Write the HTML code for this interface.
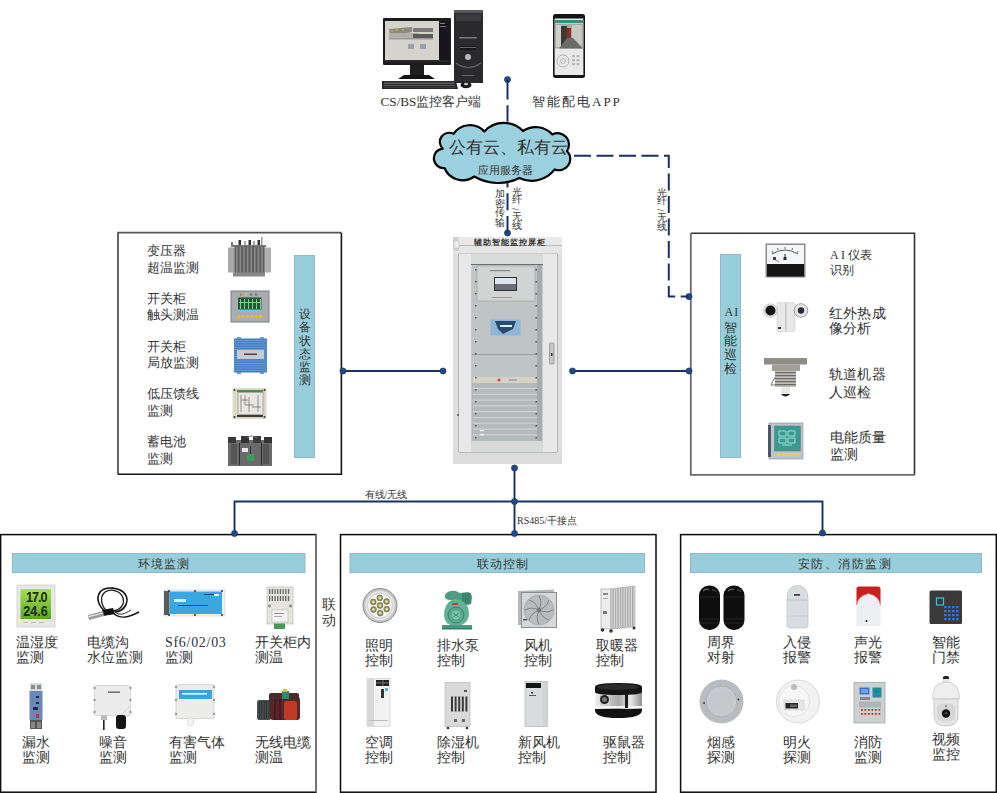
<!DOCTYPE html><html><head><meta charset="utf-8"><style>
html,body{margin:0;padding:0;background:#fff;width:997px;height:793px;overflow:hidden}
body{position:relative;font-family:"Liberation Serif",serif;color:#333}
.t{position:absolute;white-space:nowrap}
.i{position:absolute;overflow:visible}
.sl{display:inline-block;transform:rotate(90deg) translateY(-2px);line-height:6px}
</style></head><body>
<svg class="i" style="left:0;top:0" width="997" height="793"><path d="M118 474.3 V232.7 H341.4" fill="none" stroke="#555" stroke-width="1.8" stroke-linejoin="round"/><path d="M341.4 232.7 V474.3 H118" fill="none" stroke="#151515" stroke-width="1.6"/><rect x="294.5" y="255.5" width="20" height="202" fill="#98cedc" stroke="#8fb9c6" stroke-width="1"/><path d="M690.8 233.3 H914.5 V474.9" fill="none" stroke="#333" stroke-width="1.6"/><path d="M690.8 233.3 V474.9 H914.5" fill="none" stroke="#6a6a6a" stroke-width="1.8"/><rect x="720.5" y="254.5" width="20" height="203" fill="#98cedc" stroke="#8fb9c6" stroke-width="1"/><rect x="0.6" y="534.6" width="315.4" height="257.6" fill="none" stroke="#0a0a0a" stroke-width="1.5"/><path d="M316 534.6 V792.2" stroke="#808080" stroke-width="1.6"/><rect x="12.5" y="553.5" width="292.5" height="19" fill="#98cedc" stroke="#8fb9c6" stroke-width="1"/><rect x="340.5" y="534.6" width="315.5" height="257.6" fill="none" stroke="#0a0a0a" stroke-width="1.5"/><rect x="350" y="553.5" width="294.5" height="19" fill="#98cedc" stroke="#8fb9c6" stroke-width="1"/><rect x="680.6" y="534.6" width="315.69999999999993" height="257.6" fill="none" stroke="#0a0a0a" stroke-width="1.5"/><rect x="690.5" y="553.5" width="291.0" height="19" fill="#98cedc" stroke="#8fb9c6" stroke-width="1"/><path d="M343 371 H443 M572.5 371 H689 M234.5 534 V501.5 H822.5 V533 M514.5 468 V534" fill="none" stroke="#183260" stroke-width="1.9"/><circle cx="343" cy="371" r="3.1" fill="#1f4a86" stroke="#183260" stroke-width="0.6"/><circle cx="443" cy="371" r="3.1" fill="#1f4a86" stroke="#183260" stroke-width="0.6"/><circle cx="572.5" cy="371" r="3.1" fill="#1f4a86" stroke="#183260" stroke-width="0.6"/><circle cx="689" cy="371" r="3.1" fill="#1f4a86" stroke="#183260" stroke-width="0.6"/><circle cx="234.5" cy="533.5" r="3.1" fill="#1f4a86" stroke="#183260" stroke-width="0.6"/><circle cx="822.5" cy="533" r="3.1" fill="#1f4a86" stroke="#183260" stroke-width="0.6"/><circle cx="514.5" cy="501.5" r="3.1" fill="#1f4a86" stroke="#183260" stroke-width="0.6"/><circle cx="514.5" cy="533.5" r="3.1" fill="#1f4a86" stroke="#183260" stroke-width="0.6"/><circle cx="514.5" cy="468" r="3.1" fill="#1f4a86" stroke="#183260" stroke-width="0.6"/><circle cx="507.5" cy="233" r="3.1" fill="#1f4a86" stroke="#183260" stroke-width="0.6"/><circle cx="507.5" cy="79.6" r="3.1" fill="#1f4a86" stroke="#183260" stroke-width="0.6"/><circle cx="689" cy="296.6" r="3.1" fill="#1f4a86" stroke="#183260" stroke-width="0.6"/><path d="M507.5 80 V124" fill="none" stroke="#183260" stroke-width="2" stroke-dasharray="19.5 5.8 16.5 6"/><path d="M507.5 233 V178" fill="none" stroke="#183260" stroke-width="2" stroke-dasharray="17 5.7"/><path d="M574 155.8 H668.8 V296.6 H689" fill="none" stroke="#183260" stroke-width="2" stroke-dasharray="17 5.5"/><path d="M442.7 148.6 A9.20 9.20 0 0 1 453.5 133.9 A19.66 19.66 0 0 1 484.3 131.5 A26.49 26.49 0 0 1 523 131 A22.66 22.66 0 0 1 552.4 134.4 A11.44 11.44 0 0 1 567 151 A11.30 11.30 0 0 1 554.7 169.4 A28.74 28.74 0 0 1 519.3 177.9 A46.58 46.58 0 0 1 474.3 176.5 A19.75 19.75 0 0 1 444.5 168 A9.74 9.74 0 0 1 442.7 148.6 Z" fill="#9bd0de" stroke="#000" stroke-width="2.2" stroke-linejoin="round"/></svg>
<svg class="i" style="left:382px;top:17px" width="70" height="63" viewBox="0 0 70 63"><rect x="1" y="1" width="68" height="47" rx="1" fill="#1c1c1e"/><rect x="3" y="4" width="54" height="39" fill="#d4d4cc"/><rect x="57" y="4" width="10" height="39" fill="#16161c"/><rect x="58" y="6" width="5" height="1" fill="#888"/><rect x="58" y="9" width="6" height="1" fill="#777"/><path d="M7 12 L30 10 L30 15 L8 19 Z" fill="#8a8a84"/><rect x="7" y="16" width="30" height="5" fill="#b0b0a8"/><rect x="9" y="13" width="2" height="2" fill="#c9a030"/><rect x="14" y="12" width="2" height="2" fill="#c9a030"/><rect x="20" y="12" width="2" height="2" fill="#c9a030"/><rect x="31" y="11" width="20" height="4" fill="#7a7a78"/><rect x="31" y="17" width="20" height="4" fill="#5a5a58"/><rect x="7" y="21" width="44" height="1.5" fill="#999"/><rect x="26" y="27" width="6" height="5" fill="#9aa0b0"/><rect x="38" y="27" width="6" height="5" fill="#9aa0b0"/><rect x="3" y="43" width="64" height="2" fill="#2a2a2a"/><rect x="28" y="48" width="14" height="10" fill="#1e1e1e"/><path d="M16 62 L22 58 L47 58 L53 62 Z" fill="#151515"/></svg>
<svg class="i" style="left:382px;top:80px" width="76" height="10" viewBox="0 0 76 10"><path d="M0 1 L74 1 L76 9 L0 9 Z" fill="#262628"/><rect x="2" y="2.5" width="70" height="1.2" fill="#6a6a6a"/><rect x="2" y="4.8" width="71" height="1.2" fill="#5a5a5a"/><rect x="2" y="7" width="72" height="0.8" fill="#444"/></svg>
<svg class="i" style="left:454px;top:10px" width="30" height="74" viewBox="0 0 30 74"><rect x="0" y="0" width="29" height="73" fill="#2a2a2c"/><rect x="0" y="0" width="29" height="3" fill="#5a5a5e"/><rect x="2" y="4" width="25" height="7" fill="#3c3c40"/><rect x="5" y="27" width="18" height="1.5" fill="#777"/><rect x="6" y="36" width="16" height="4" fill="#18181a"/><rect x="6" y="37" width="16" height="1" fill="#666"/><circle cx="14" cy="47" r="3" fill="#b8b8b8"/><path d="M2 53 Q14 62 27 53" stroke="#666" stroke-width="1.2" fill="none"/><rect x="8" y="65" width="12" height="1" fill="#666"/></svg>
<svg class="i" style="left:460px;top:81px" width="13" height="8" viewBox="0 0 13 8"><ellipse cx="6" cy="4" rx="5.5" ry="3.2" fill="#1a1a1a"/><ellipse cx="6" cy="3" rx="2" ry="1.3" fill="#ccc"/></svg>
<svg class="i" style="left:553px;top:14px" width="33" height="64" viewBox="0 0 33 64"><rect x="0" y="0" width="32" height="64" rx="2.5" fill="#151515"/><rect x="1.6" y="4.5" width="28.8" height="56.5" fill="#e9e9e9"/><rect x="1.6" y="6" width="28.8" height="3" fill="#3a9080"/><rect x="1.6" y="9.5" width="28.8" height="25" fill="#a8a8a2"/><rect x="3" y="11" width="5" height="22" fill="#d0d0c8"/><rect x="8" y="12" width="6" height="21" fill="#3a3a36"/><rect x="14" y="14" width="4" height="11" fill="#8a3020"/><rect x="19" y="11" width="10" height="22" fill="#c8c8c2"/><path d="M6 34.5 L14 24 L20 24 L30 34.5 Z" fill="#6a6a66"/><circle cx="10" cy="47" r="6" fill="none" stroke="#9a9a9a" stroke-width="0.7"/><circle cx="10" cy="47" r="2.5" fill="none" stroke="#9a9a9a" stroke-width="0.6"/><g fill="#b8b8b8"><rect x="19.0" y="41" width="3" height="2.2"/><rect x="23.5" y="41" width="3" height="2.2"/><rect x="19.0" y="45" width="3" height="2.2"/><rect x="23.5" y="45" width="3" height="2.2"/><rect x="19.0" y="49" width="3" height="2.2"/><rect x="23.5" y="49" width="3" height="2.2"/></g></svg>
<svg class="i" style="left:453px;top:237px" width="110" height="228" viewBox="0 0 110 228"><rect x="0" y="0" width="109" height="227" fill="#dedede"/><rect x="0" y="0" width="109" height="8" fill="#e9e9e9"/><rect x="0" y="8" width="109" height="1" fill="#b8b8b8"/><rect x="0" y="9" width="109" height="8" fill="#e6e6e6"/><rect x="0" y="0" width="6" height="14" fill="#d0d0d0"/><rect x="1" y="4" width="5" height="7" fill="#eee" stroke="#bbb" stroke-width="0.5"/><rect x="5.5" y="17" width="99" height="199" fill="#e2e2e2" stroke="#b4b4b4" stroke-width="1"/><rect x="6" y="17" width="12" height="198" fill="#e8e8e8"/><rect x="90" y="17" width="14" height="198" fill="#e8e8e8"/><rect x="18" y="17" width="72" height="198" fill="#c8cccc"/><rect x="18" y="17" width="72" height="10" fill="#dadcdc"/><rect x="18" y="27" width="72" height="1" fill="#6a6e6e"/><rect x="19" y="28" width="70" height="176" fill="#bfc5c5"/><rect x="24" y="29" width="58" height="35" fill="#d0d4d2" stroke="#a8acac" stroke-width="0.8"/><rect x="37" y="33" width="20" height="1.2" fill="#888"/><rect x="41" y="40" width="23" height="14" fill="#2a3240"/><rect x="42" y="41" width="21" height="6" fill="#dde6ee"/><rect x="42" y="47" width="21" height="6" fill="#6a7078"/><rect x="39" y="60" width="20" height="1" fill="#999"/><rect x="37.5" y="82.5" width="30" height="16" fill="#8fb6d8"/><path d="M42 84 H63 L60 92 L50 97 L45 92 Z" fill="#2c4a70"/><rect x="47" y="88" width="12" height="2" fill="#cfe"/><rect x="19" y="117" width="70" height="1" fill="#9aa0a0"/><rect x="20" y="140" width="68" height="6" fill="#d6d2c6"/><circle cx="46" cy="143" r="1.6" fill="#e04030"/><rect x="56" y="142" width="8" height="2" fill="#aaa"/><rect x="19" y="146" width="70" height="58" fill="#b2baba"/><g fill="#d6dada"><rect x="20" y="151.0" width="68" height="0.9"/><rect x="20" y="156.8" width="68" height="0.9"/><rect x="20" y="162.6" width="68" height="0.9"/><rect x="20" y="168.4" width="68" height="0.9"/><rect x="20" y="174.2" width="68" height="0.9"/><rect x="20" y="180.0" width="68" height="0.9"/><rect x="20" y="185.8" width="68" height="0.9"/><rect x="20" y="191.6" width="68" height="0.9"/><rect x="20" y="197.4" width="68" height="0.9"/></g><rect x="84" y="28" width="5" height="176" fill="#a4acac"/><g fill="#555"><rect x="22" y="32" width="1.5" height="1.5"/><rect x="82.5" y="32" width="1.5" height="1.5"/><rect x="22" y="44" width="1.5" height="1.5"/><rect x="82.5" y="44" width="1.5" height="1.5"/><rect x="22" y="56" width="1.5" height="1.5"/><rect x="82.5" y="56" width="1.5" height="1.5"/><rect x="22" y="68" width="1.5" height="1.5"/><rect x="82.5" y="68" width="1.5" height="1.5"/><rect x="22" y="80" width="1.5" height="1.5"/><rect x="82.5" y="80" width="1.5" height="1.5"/><rect x="22" y="92" width="1.5" height="1.5"/><rect x="82.5" y="92" width="1.5" height="1.5"/><rect x="22" y="104" width="1.5" height="1.5"/><rect x="82.5" y="104" width="1.5" height="1.5"/><rect x="22" y="116" width="1.5" height="1.5"/><rect x="82.5" y="116" width="1.5" height="1.5"/><rect x="22" y="128" width="1.5" height="1.5"/><rect x="82.5" y="128" width="1.5" height="1.5"/><rect x="22" y="140" width="1.5" height="1.5"/><rect x="82.5" y="140" width="1.5" height="1.5"/><rect x="22" y="152" width="1.5" height="1.5"/><rect x="82.5" y="152" width="1.5" height="1.5"/><rect x="22" y="164" width="1.5" height="1.5"/><rect x="82.5" y="164" width="1.5" height="1.5"/><rect x="22" y="176" width="1.5" height="1.5"/><rect x="82.5" y="176" width="1.5" height="1.5"/><rect x="22" y="188" width="1.5" height="1.5"/><rect x="82.5" y="188" width="1.5" height="1.5"/><rect x="22" y="200" width="1.5" height="1.5"/><rect x="82.5" y="200" width="1.5" height="1.5"/></g><rect x="27" y="193" width="4" height="1.2" fill="#fff"/><rect x="27" y="197" width="4" height="1.2" fill="#fff"/><rect x="18" y="204" width="72" height="11" fill="#d8dada"/><rect x="96.5" y="106" width="4.5" height="21" rx="1" fill="#c8c8c8" stroke="#888" stroke-width="0.7"/><rect x="98" y="116" width="1.5" height="3" fill="#333"/><rect x="0" y="215" width="109" height="12" fill="#dcdcdc"/><rect x="6" y="215" width="98" height="1" fill="#bbb"/><rect x="4.5" y="177" width="1" height="2" fill="#222"/></svg>
<div class="t" style="left:474px;top:238.5px;font-size:7.5px;line-height:8px;font-weight:bold;letter-spacing:1.05px;color:#333">辅助智能监控屏柜</div>
<svg class="i" style="left:228px;top:237px" width="44" height="40" viewBox="0 0 44 40"><rect x="3" y="5" width="2" height="5" fill="#777"/><rect x="10.5" y="3" width="2.5" height="7" fill="#333"/><rect x="16" y="4" width="2" height="6" fill="#aaa"/><rect x="20.5" y="3" width="2.5" height="7" fill="#333"/><rect x="25" y="4" width="2" height="6" fill="#aaa"/><rect x="29.5" y="3" width="2.5" height="7" fill="#333"/><rect x="33" y="0" width="1.5" height="9" fill="#999"/><rect x="5" y="8" width="33" height="2" fill="#777"/><rect x="0" y="10.5" width="7.5" height="25" fill="#a8a8a8"/><rect x="35.5" y="10.5" width="7.5" height="25" fill="#b0b0b0"/><rect x="6.5" y="9.5" width="30" height="27" fill="#5e5e5e"/><rect x="8.0" y="10" width="1.6" height="26" fill="#8a8a8a"/><rect x="11.6" y="10" width="1.6" height="26" fill="#8a8a8a"/><rect x="15.2" y="10" width="1.6" height="26" fill="#8a8a8a"/><rect x="18.8" y="10" width="1.6" height="26" fill="#8a8a8a"/><rect x="22.4" y="10" width="1.6" height="26" fill="#8a8a8a"/><rect x="26.0" y="10" width="1.6" height="26" fill="#8a8a8a"/><rect x="29.6" y="10" width="1.6" height="26" fill="#8a8a8a"/><rect x="33.2" y="10" width="1.6" height="26" fill="#8a8a8a"/><rect x="5" y="35.5" width="32" height="4" fill="#888"/></svg>
<svg class="i" style="left:230px;top:290px" width="40" height="33" viewBox="0 0 40 33"><rect x="1" y="1" width="38" height="31" fill="#a9adb2" stroke="#7a7e82" stroke-width="1"/><circle cx="11" cy="4.5" r="1.2" fill="#e07040"/><circle cx="16" cy="4.5" r="1.2" fill="#c8d040"/><circle cx="21" cy="4.5" r="1.2" fill="#777"/><circle cx="26" cy="4.5" r="1.2" fill="#777"/><rect x="8" y="7.5" width="23.5" height="12.5" fill="#1f5a34"/><rect x="10" y="9" width="1" height="10" fill="#7fd080"/><rect x="14" y="9" width="1" height="10" fill="#7fd080"/><rect x="18" y="9" width="1" height="10" fill="#7fd080"/><rect x="22" y="9" width="1" height="10" fill="#7fd080"/><rect x="26" y="9" width="1" height="10" fill="#7fd080"/><rect x="30" y="9" width="1" height="10" fill="#7fd080"/><rect x="9" y="12" width="22" height="0.8" fill="#9fe09a"/><rect x="8" y="19.5" width="23.5" height="2" fill="#6fc8d8"/><circle cx="9.0" cy="26.5" r="1.7" fill="#e0c020"/><circle cx="13.3" cy="26.5" r="1.7" fill="#e0c020"/><circle cx="17.6" cy="26.5" r="1.7" fill="#e0c020"/><circle cx="21.9" cy="26.5" r="1.7" fill="#e0c020"/><circle cx="26.2" cy="26.5" r="1.7" fill="#e0c020"/><circle cx="30.5" cy="26.5" r="1.7" fill="#e0c020"/></svg>
<svg class="i" style="left:233px;top:337px" width="35" height="37" viewBox="0 0 35 37"><rect x="1" y="1.5" width="33" height="34" fill="#3f7cc0"/><rect x="1" y="3.0" width="33" height="0.8" fill="#7aa8d8"/><rect x="1" y="5.3" width="33" height="0.8" fill="#7aa8d8"/><rect x="1" y="7.6" width="33" height="0.8" fill="#7aa8d8"/><rect x="1" y="9.9" width="33" height="0.8" fill="#7aa8d8"/><rect x="1" y="12.2" width="33" height="0.8" fill="#7aa8d8"/><rect x="1" y="14.5" width="33" height="0.8" fill="#7aa8d8"/><rect x="1" y="16.8" width="33" height="0.8" fill="#7aa8d8"/><rect x="1" y="19.1" width="33" height="0.8" fill="#7aa8d8"/><rect x="1" y="21.4" width="33" height="0.8" fill="#7aa8d8"/><rect x="1" y="23.7" width="33" height="0.8" fill="#7aa8d8"/><rect x="1" y="26.0" width="33" height="0.8" fill="#7aa8d8"/><rect x="1" y="28.3" width="33" height="0.8" fill="#7aa8d8"/><rect x="1" y="30.6" width="33" height="0.8" fill="#7aa8d8"/><rect x="1" y="32.9" width="33" height="0.8" fill="#7aa8d8"/><rect x="4" y="13" width="27" height="9" fill="#c8ccd2"/><rect x="11" y="16.5" width="13" height="1.5" fill="#444"/><rect x="4" y="0" width="4" height="2" fill="#6a9ad0"/><rect x="27" y="0" width="4" height="2" fill="#6a9ad0"/><rect x="4" y="35" width="4" height="2" fill="#6a9ad0"/><rect x="27" y="35" width="4" height="2" fill="#6a9ad0"/></svg>
<svg class="i" style="left:232px;top:387px" width="36" height="33" viewBox="0 0 36 33"><rect x="0.5" y="1" width="34" height="31" fill="#ddd9c8"/><rect x="5" y="3" width="26" height="2" fill="#4a8a4a"/><rect x="5" y="28" width="26" height="2" fill="#3a3a3a"/><rect x="6" y="5.5" width="25" height="22" fill="#e9e7e2" stroke="#888" stroke-width="0.6"/><path d="M9 8 V25 M13 8 V18 H22 M17 10 V25 M26 8 V25 M9 13 H16 M20 20 H29" stroke="#555" stroke-width="0.6" fill="none"/><circle cx="2.5" cy="3" r="1" fill="#333"/><circle cx="32.5" cy="3" r="1" fill="#333"/><circle cx="2.5" cy="30" r="1" fill="#333"/><circle cx="32.5" cy="30" r="1" fill="#333"/></svg>
<svg class="i" style="left:227px;top:434px" width="46" height="33" viewBox="0 0 46 33"><rect x="1" y="6" width="44" height="26" fill="#6a6a6a"/><rect x="1" y="3" width="8" height="6" fill="#3a3a3a"/><rect x="14" y="2" width="8" height="7" fill="#333"/><rect x="26" y="2" width="8" height="7" fill="#3c3c3c"/><rect x="37" y="3" width="8" height="6" fill="#333"/><rect x="12" y="9" width="1" height="22" fill="#2a2a2a"/><rect x="34" y="9" width="1" height="22" fill="#2a2a2a"/><path d="M20 4 Q25 0 30 4" stroke="#777" stroke-width="1" fill="none"/><rect x="15" y="14" width="6" height="4" fill="#e8e8e8"/><rect x="20" y="20" width="7" height="7" fill="#3a9a5a"/><rect x="23" y="12" width="1" height="8" fill="#333"/><rect x="4" y="10" width="6" height="20" fill="#555"/><rect x="36" y="10" width="6" height="20" fill="#555"/></svg>
<svg class="i" style="left:765px;top:243px" width="41" height="36" viewBox="0 0 41 36"><rect x="0.5" y="0.5" width="40" height="34" fill="#8a8a8a"/><rect x="2" y="2" width="37" height="19" fill="#f4f6fa"/><rect x="2" y="21" width="37" height="12.5" fill="#151515"/><path d="M7 11 Q20 3 33 11" stroke="#333" stroke-width="0.8" fill="none"/><path d="M8 10 l-1 -2 M13 7 l-0.5 -2 M20 6 v-2 M27 7 l0.5 -2 M32 10 l1 -2" stroke="#333" stroke-width="0.7"/><path d="M20 16 L20 11" stroke="#222" stroke-width="1"/><rect x="18.5" y="14" width="3" height="3" fill="#333"/><path d="M9 16 L14 19" stroke="#c33" stroke-width="0.8"/><rect x="8" y="14" width="3" height="3" fill="#444"/></svg>
<svg class="i" style="left:763px;top:302px" width="46" height="30" viewBox="0 0 46 30"><rect x="14" y="0.5" width="18" height="29" rx="2" fill="#e8e8e8" stroke="#cfcfcf" stroke-width="0.6"/><rect x="22.5" y="1" width="0.8" height="27" fill="#aaa"/><circle cx="7.5" cy="8.5" r="6.8" fill="#e0e0e0" stroke="#bbb" stroke-width="0.6"/><circle cx="7.5" cy="8.5" r="5" fill="#151515"/><circle cx="38" cy="8.5" r="6.8" fill="#e6e6e6" stroke="#888" stroke-width="0.8"/><circle cx="38" cy="8.5" r="3.2" fill="#2a2a40"/><rect x="15" y="25" width="3" height="2" fill="#333"/></svg>
<svg class="i" style="left:764px;top:357px" width="45" height="42" viewBox="0 0 45 42"><rect x="0" y="1" width="43" height="6.5" fill="#8e8e86"/><rect x="8" y="7.5" width="28" height="6.5" fill="#a0a098"/><rect x="11" y="14" width="21" height="16" fill="#c0c0b8"/><rect x="11" y="15" width="21" height="1.3" fill="#6a6a66"/><rect x="11" y="18" width="21" height="1.3" fill="#6a6a66"/><rect x="11" y="21" width="21" height="1.3" fill="#6a6a66"/><rect x="11" y="24" width="21" height="1.3" fill="#6a6a66"/><rect x="11" y="27" width="21" height="1.3" fill="#6a6a66"/><path d="M11 20 L7 28 L11 28" stroke="#555" stroke-width="0.8" fill="none"/><rect x="17" y="30" width="9" height="7" fill="#e9e9e9"/><path d="M17 37 Q21.5 42 26 37 Z" fill="#222"/></svg>
<svg class="i" style="left:768px;top:422px" width="36" height="38" viewBox="0 0 36 38"><rect x="1" y="1" width="34" height="36" fill="#bcc6cc" stroke="#8e9aa2" stroke-width="0.7"/><rect x="0" y="3" width="3" height="32" fill="#4a5866"/><rect x="6.5" y="4" width="26" height="25" fill="#3a9a92" stroke="#6a7a80" stroke-width="0.6"/><path d="M11 9 h7 v5 h-7 z M20 9 h7 v5 h-7 z M11 16 h7 v5 h-7 z M20 16 h7 v5 h-7 z M14 23 h10" stroke="#a0e0d0" stroke-width="1" fill="none"/><rect x="9.0" y="31" width="3" height="2.2" fill="#e8d060"/><rect x="13.6" y="31" width="3" height="2.2" fill="#e8d060"/><rect x="18.2" y="31" width="3" height="2.2" fill="#e8d060"/><rect x="22.8" y="31" width="3" height="2.2" fill="#e8d060"/><rect x="27.4" y="31" width="3" height="2.2" fill="#e8d060"/></svg>
<svg class="i" style="left:17px;top:585px" width="38" height="42" viewBox="0 0 38 42"><defs><linearGradient id="lcd" x1="0" y1="0" x2="0" y2="1"><stop offset="0" stop-color="#a8e050"/><stop offset="1" stop-color="#5aa828"/></linearGradient></defs><rect x="0" y="0" width="38" height="42" fill="#e6e8e6" stroke="#d0d0d0" stroke-width="0.8"/><rect x="3.5" y="4" width="30.5" height="30" fill="url(#lcd)"/><text x="10" y="17.5" font-family="Liberation Sans" font-size="14" font-weight="bold" fill="#1a2a10" transform="scale(0.9 1)" textLength="24">17.0</text><text x="7" y="31" font-family="Liberation Sans" font-size="14" font-weight="bold" fill="#1a2a10" transform="scale(0.9 1)">24.6</text><rect x="6" y="37" width="5" height="1" fill="#bbb"/><rect x="14" y="37" width="5" height="1" fill="#bbb"/><rect x="22" y="37" width="5" height="1" fill="#bbb"/></svg>
<svg class="i" style="left:87px;top:587px" width="53" height="37" viewBox="0 0 53 37"><path d="M24 27 C13 24 8 12 13 5 C18 -1 33 0 38 7 C43 14 38 24 28 25" stroke="#111" stroke-width="1.6" fill="none"/><path d="M22 26 C14 20 12 10 18 5 C24 1 34 4 36 11 C38 18 33 23 26 24" stroke="#1a1a1a" stroke-width="1.3" fill="none"/><path d="M26 26 C34 33 42 30 52 25" stroke="#151515" stroke-width="1.4" fill="none"/><path d="M28 25 C32 29 38 27 44 23" stroke="#222" stroke-width="1" fill="none"/><path d="M15 23 L26 21 L28 27 L16 29 Z" fill="#111"/><path d="M1 28 L16 24 L17 29 L2 33 Z" fill="#9a9a9a"/><path d="M1.5 29 L16 25.5 L16.3 26.6 L2 30.2 Z" fill="#e8e8e8"/></svg>
<svg class="i" style="left:164px;top:589px" width="61" height="28" viewBox="0 0 61 28"><rect x="0" y="1" width="61" height="26" fill="#f2f2f2" stroke="#ccc" stroke-width="0.6"/><rect x="0" y="2" width="5.5" height="24" fill="#5a5a5a"/><rect x="5.5" y="2.5" width="52.5" height="22.5" fill="#3ba7e0"/><rect x="10" y="10" width="12" height="3" fill="#dfe8c8"/><rect x="14" y="16" width="30" height="1" fill="#1a4a70"/><rect x="40" y="5" width="10" height="1" fill="#1a4a70"/><rect x="50" y="5" width="5" height="2" fill="#dff"/><circle cx="5" cy="2" r="1" fill="#333"/><circle cx="31" cy="2" r="1" fill="#333"/><circle cx="58" cy="2" r="1" fill="#333"/><circle cx="5" cy="26" r="1" fill="#333"/><circle cx="31" cy="26" r="1" fill="#333"/><circle cx="58" cy="26" r="1" fill="#333"/></svg>
<svg class="i" style="left:266px;top:586px" width="28" height="44" viewBox="0 0 28 44"><rect x="1" y="1" width="26" height="37" fill="#e4e4dc" stroke="#bdbdb5" stroke-width="0.7"/><rect x="3.0" y="3" width="1.3" height="5" fill="#666"/><rect x="3.0" y="10" width="1.3" height="5" fill="#666"/><rect x="5.7" y="3" width="1.3" height="5" fill="#666"/><rect x="5.7" y="10" width="1.3" height="5" fill="#666"/><rect x="8.4" y="3" width="1.3" height="5" fill="#666"/><rect x="8.4" y="10" width="1.3" height="5" fill="#666"/><rect x="11.1" y="3" width="1.3" height="5" fill="#666"/><rect x="11.1" y="10" width="1.3" height="5" fill="#666"/><rect x="13.8" y="3" width="1.3" height="5" fill="#666"/><rect x="13.8" y="10" width="1.3" height="5" fill="#666"/><rect x="16.5" y="3" width="1.3" height="5" fill="#666"/><rect x="16.5" y="10" width="1.3" height="5" fill="#666"/><rect x="19.2" y="3" width="1.3" height="5" fill="#666"/><rect x="19.2" y="10" width="1.3" height="5" fill="#666"/><rect x="21.9" y="3" width="1.3" height="5" fill="#666"/><rect x="21.9" y="10" width="1.3" height="5" fill="#666"/><circle cx="3.5" cy="20" r="1.4" fill="#888"/><circle cx="24.5" cy="20" r="1.4" fill="#888"/><rect x="6" y="24" width="16" height="12" fill="#f4f4f4" stroke="#aaa" stroke-width="0.5"/><rect x="8" y="27" width="10" height="0.8" fill="#777"/><rect x="8" y="30" width="8" height="0.8" fill="#999"/><rect x="8" y="37.5" width="11" height="5.5" fill="#4a9a5a"/></svg>
<svg class="i" style="left:29px;top:683px" width="14" height="46" viewBox="0 0 14 46"><rect x="1" y="0" width="12" height="8" fill="#d8dce0"/><rect x="2" y="2" width="4" height="4" fill="#888"/><rect x="8" y="2" width="4" height="4" fill="#888"/><rect x="0.5" y="8" width="13" height="29" fill="#6b89b6"/><rect x="7" y="13" width="3" height="2" fill="#1a2a50"/><rect x="7" y="19" width="3" height="2" fill="#1a2a50"/><rect x="4" y="24" width="5" height="3" fill="#1a2a50"/><rect x="7" y="31" width="3" height="4" fill="#c03040"/><rect x="1" y="37" width="12" height="9" fill="#555"/><rect x="2" y="39" width="4" height="6" fill="#888"/><rect x="8" y="39" width="4" height="6" fill="#888"/></svg>
<svg class="i" style="left:93px;top:685px" width="39" height="45" viewBox="0 0 39 45"><rect x="1.5" y="0.5" width="36" height="30" rx="1" fill="#ececec" stroke="#c8c8c8" stroke-width="0.7"/><circle cx="1.5" cy="3" r="1.2" fill="#999"/><circle cx="37.5" cy="3" r="1.2" fill="#999"/><circle cx="1.5" cy="15" r="1.2" fill="#999"/><circle cx="37.5" cy="15" r="1.2" fill="#999"/><circle cx="1.5" cy="27" r="1.2" fill="#999"/><circle cx="37.5" cy="27" r="1.2" fill="#999"/><rect x="15" y="6.5" width="12" height="1.3" fill="#555"/><path d="M28 30 L37 21" stroke="#ccc" stroke-width="0.8"/><rect x="8" y="30" width="6" height="5" fill="#bbb"/><rect x="10" y="35" width="1.6" height="10" fill="#222"/><rect x="23" y="30" width="10" height="14" rx="3" fill="#151515"/></svg>
<svg class="i" style="left:174px;top:684px" width="42" height="44" viewBox="0 0 42 44"><rect x="2" y="0.5" width="38" height="34" rx="1" fill="#ececea" stroke="#cacaca" stroke-width="0.7"/><circle cx="2" cy="3" r="1.2" fill="#999"/><circle cx="40" cy="3" r="1.2" fill="#999"/><circle cx="2" cy="16" r="1.2" fill="#999"/><circle cx="40" cy="16" r="1.2" fill="#999"/><circle cx="2" cy="30" r="1.2" fill="#999"/><circle cx="40" cy="30" r="1.2" fill="#999"/><rect x="5" y="6" width="33" height="9" fill="#3ea4d8"/><rect x="8" y="9" width="25" height="1.6" fill="#e8f4ff"/><path d="M13 34 L14 41 Q16 44 19 41 L20 34 Z" fill="#f4f4f4" stroke="#ccc" stroke-width="0.6"/></svg>
<svg class="i" style="left:257px;top:689px" width="46" height="33" viewBox="0 0 46 33"><rect x="0" y="11" width="14" height="20" rx="2" fill="#4a4f50"/><rect x="2.0" y="12" width="0.8" height="18" fill="#2a2a2a"/><rect x="4.4" y="12" width="0.8" height="18" fill="#2a2a2a"/><rect x="6.8" y="12" width="0.8" height="18" fill="#2a2a2a"/><rect x="9.2" y="12" width="0.8" height="18" fill="#2a2a2a"/><rect x="11.6" y="12" width="0.8" height="18" fill="#2a2a2a"/><rect x="13" y="8" width="30" height="23" rx="3" fill="#5a2428"/><rect x="12" y="4" width="30" height="9" rx="2" fill="#4a2a2a"/><rect x="27" y="12" width="13" height="19" rx="2" fill="#c03a28"/><rect x="25" y="2" width="7" height="8" fill="#2a8a6a"/><rect x="26" y="0" width="4" height="3" fill="#d8c030"/><path d="M18 10 V31 M23 10 V31" stroke="#2a1515" stroke-width="1"/></svg>
<svg class="i" style="left:362px;top:588px" width="36" height="37" viewBox="0 0 36 37"><circle cx="18" cy="17.5" r="17" fill="#c8c8c8" stroke="#8a8a8a" stroke-width="1"/><circle cx="18" cy="17.5" r="14.5" fill="#e8e8e8"/><circle cx="18" cy="17.5" r="12.5" fill="#f6f6f2" stroke="#b0b0b0" stroke-width="0.6"/><circle cx="24.7" cy="21.1" r="2.9" fill="#9a9660" stroke="#4a4a30" stroke-width="0.5"/><circle cx="24.7" cy="21.1" r="1.3" fill="#e8e4b0"/><circle cx="18.2" cy="25.1" r="2.9" fill="#9a9660" stroke="#4a4a30" stroke-width="0.5"/><circle cx="18.2" cy="25.1" r="1.3" fill="#e8e4b0"/><circle cx="11.5" cy="21.5" r="2.9" fill="#9a9660" stroke="#4a4a30" stroke-width="0.5"/><circle cx="11.5" cy="21.5" r="1.3" fill="#e8e4b0"/><circle cx="11.3" cy="13.9" r="2.9" fill="#9a9660" stroke="#4a4a30" stroke-width="0.5"/><circle cx="11.3" cy="13.9" r="1.3" fill="#e8e4b0"/><circle cx="17.8" cy="9.9" r="2.9" fill="#9a9660" stroke="#4a4a30" stroke-width="0.5"/><circle cx="17.8" cy="9.9" r="1.3" fill="#e8e4b0"/><circle cx="24.5" cy="13.5" r="2.9" fill="#9a9660" stroke="#4a4a30" stroke-width="0.5"/><circle cx="24.5" cy="13.5" r="1.3" fill="#e8e4b0"/><circle cx="18" cy="17.5" r="2.9" fill="#9a9660" stroke="#4a4a30" stroke-width="0.5"/><circle cx="18" cy="17.5" r="1.3" fill="#e8e4b0"/></svg>
<svg class="i" style="left:442px;top:589px" width="31" height="43" viewBox="0 0 31 43"><path d="M3 6 Q6 1 14 2 L18 4 L26 3 Q30 4 30 9 L29 15 Q24 17 20 15 L18 11 L12 11 Q6 12 3 9 Z" fill="#4e9c82"/><path d="M20 4 H29 V15 H20 Z" fill="#3e8a72"/><path d="M21 5 V14 M23.5 5 V14 M26 5 V14" stroke="#2e6e5a" stroke-width="0.7"/><path d="M12 10 Q2 14 2 26 Q2 36 13 37 Q26 37 27 25 Q27 14 18 11 Z" fill="#62b096"/><circle cx="14" cy="26" r="8" fill="#58a68c" stroke="#3a7e68" stroke-width="0.9"/><circle cx="14" cy="26" r="4.5" fill="#78c4aa"/><path d="M11 24 L17 28 M11 28 L17 24" stroke="#3a7e68" stroke-width="0.8"/><rect x="10" y="14" width="6" height="2" fill="#c84030"/><rect x="0" y="36" width="30" height="4" fill="#4a9880"/><rect x="0" y="39" width="30" height="1.5" fill="#3a7a66"/></svg>
<svg class="i" style="left:518px;top:589px" width="40" height="40" viewBox="0 0 40 40"><path d="M0 2 L36 0.5 L36 35 L0 36 Z" fill="#b4b8ba"/><rect x="3.5" y="3.5" width="35" height="35" fill="#d4d8d8" stroke="#8a8e90" stroke-width="1"/><circle cx="21" cy="21" r="15" fill="#b8bcbe" stroke="#9a9ea0" stroke-width="0.6"/><path d="M21 21 Q29.3 24.5 35.0 21.0" stroke="#7e8486" stroke-width="1" fill="none"/><path d="M21 21 Q24.4 29.3 30.9 30.9" stroke="#7e8486" stroke-width="1" fill="none"/><path d="M21 21 Q17.5 29.3 21.0 35.0" stroke="#7e8486" stroke-width="1" fill="none"/><path d="M21 21 Q12.7 24.4 11.1 30.9" stroke="#7e8486" stroke-width="1" fill="none"/><path d="M21 21 Q12.7 17.5 7.0 21.0" stroke="#7e8486" stroke-width="1" fill="none"/><path d="M21 21 Q17.6 12.7 11.1 11.1" stroke="#7e8486" stroke-width="1" fill="none"/><path d="M21 21 Q24.5 12.7 21.0 7.0" stroke="#7e8486" stroke-width="1" fill="none"/><path d="M21 21 Q29.3 17.6 30.9 11.1" stroke="#7e8486" stroke-width="1" fill="none"/><circle cx="21" cy="21" r="2.2" fill="#777"/><rect x="5" y="30" width="4" height="1.5" fill="#555"/></svg>
<svg class="i" style="left:600px;top:585px" width="36" height="48" viewBox="0 0 36 48"><rect x="1" y="4" width="10" height="40" fill="#ececec" stroke="#999" stroke-width="0.6"/><rect x="3" y="8" width="5" height="2" fill="#888"/><rect x="3" y="13" width="5" height="1" fill="#aaa"/><rect x="3" y="26" width="4" height="3" fill="#777"/><rect x="11.0" y="3.5" width="1.9" height="41" rx="0.9" fill="#e2e2e2" stroke="#6e6e6e" stroke-width="0.45"/><rect x="13.4" y="3.2" width="1.9" height="41" rx="0.9" fill="#e2e2e2" stroke="#6e6e6e" stroke-width="0.45"/><rect x="15.9" y="2.9" width="1.9" height="41" rx="0.9" fill="#e2e2e2" stroke="#6e6e6e" stroke-width="0.45"/><rect x="18.4" y="2.6" width="1.9" height="41" rx="0.9" fill="#e2e2e2" stroke="#6e6e6e" stroke-width="0.45"/><rect x="20.8" y="2.3" width="1.9" height="41" rx="0.9" fill="#e2e2e2" stroke="#6e6e6e" stroke-width="0.45"/><rect x="23.2" y="2.0" width="1.9" height="41" rx="0.9" fill="#e2e2e2" stroke="#6e6e6e" stroke-width="0.45"/><rect x="25.7" y="1.7" width="1.9" height="41" rx="0.9" fill="#e2e2e2" stroke="#6e6e6e" stroke-width="0.45"/><rect x="28.2" y="1.4" width="1.9" height="41" rx="0.9" fill="#e2e2e2" stroke="#6e6e6e" stroke-width="0.45"/><rect x="30.6" y="1.1" width="1.9" height="41" rx="0.9" fill="#e2e2e2" stroke="#6e6e6e" stroke-width="0.45"/><rect x="33.0" y="0.8" width="1.9" height="41" rx="0.9" fill="#e2e2e2" stroke="#6e6e6e" stroke-width="0.45"/><circle cx="2.5" cy="45" r="1.8" fill="#333"/><circle cx="11" cy="46" r="1.8" fill="#333"/><circle cx="34" cy="43" r="1.5" fill="#333"/></svg>
<svg class="i" style="left:366px;top:678px" width="25" height="49" viewBox="0 0 25 49"><rect x="1" y="0.5" width="23" height="48" fill="#f2f2f2" stroke="#c8c8c8" stroke-width="0.6"/><rect x="1" y="1" width="7" height="47" fill="#d8d8d8"/><rect x="10" y="2" width="13" height="6" fill="#222"/><rect x="10" y="4.5" width="13" height="0.8" fill="#888"/><rect x="16.5" y="2" width="0.8" height="6" fill="#777"/><rect x="15" y="11" width="3" height="9" fill="#333"/><rect x="19" y="10" width="3" height="3" fill="#6ac"/><rect x="3" y="42" width="19" height="1" fill="#bbb"/></svg>
<svg class="i" style="left:444px;top:682px" width="27" height="48" viewBox="0 0 27 48"><rect x="1" y="0.5" width="25" height="44" fill="#d9d9d9" stroke="#b0b0b0" stroke-width="0.6"/><rect x="7.0" y="14.5" width="2" height="15" fill="#3a3a3a"/><rect x="10.6" y="14.5" width="2" height="15" fill="#3a3a3a"/><rect x="14.2" y="14.5" width="2" height="15" fill="#3a3a3a"/><rect x="17.8" y="14.5" width="2" height="15" fill="#3a3a3a"/><rect x="21.4" y="14.5" width="2" height="15" fill="#3a3a3a"/><rect x="20" y="8" width="3" height="2" fill="#555"/><rect x="10" y="37" width="3" height="3" fill="#666"/><rect x="18" y="37" width="3" height="3" fill="#666"/><circle cx="4" cy="46" r="1.3" fill="#333"/><circle cx="23" cy="46" r="1.3" fill="#333"/></svg>
<svg class="i" style="left:524px;top:681px" width="25" height="47" viewBox="0 0 25 47"><rect x="1" y="0.5" width="22.5" height="45" fill="#d8dcdc" stroke="#a8acac" stroke-width="0.6"/><rect x="2" y="2" width="15" height="5" fill="#151515"/><rect x="7" y="11" width="2" height="1.5" fill="#335"/><rect x="5" y="14" width="7" height="1" fill="#557"/><rect x="20" y="24" width="1.5" height="3" fill="#777"/><rect x="19" y="1" width="4.5" height="44" fill="#cfd3d3"/></svg>
<svg class="i" style="left:594px;top:682px" width="49" height="37" viewBox="0 0 49 37"><defs><linearGradient id="sil" x1="0" y1="0" x2="1" y2="0"><stop offset="0" stop-color="#f0f0f0"/><stop offset="0.5" stop-color="#a8a8a8"/><stop offset="0.75" stop-color="#e8e8e8"/><stop offset="1" stop-color="#909090"/></linearGradient></defs><path d="M1 28 Q1 36 24 36 Q48 36 48 28 V25 H1 Z" fill="#111"/><rect x="1" y="9" width="47" height="18" fill="url(#sil)"/><rect x="1" y="24" width="47" height="2" fill="#f4f4f4"/><rect x="31" y="9" width="3" height="17" fill="#1a1a1a"/><rect x="6" y="12" width="10" height="11" fill="#d0d0d0"/><circle cx="10.5" cy="17.5" r="4.5" fill="#222"/><circle cx="10.5" cy="17.5" r="2.5" fill="#777"/><path d="M1 5 Q1 1 24 1 Q48 1 48 5 V10 Q48 13 24 13 Q1 13 1 10 Z" fill="#151515"/><ellipse cx="24" cy="5" rx="21" ry="3" fill="#2c2c2c"/></svg>
<svg class="i" style="left:698px;top:585px" width="48" height="46" viewBox="0 0 48 46"><rect x="1" y="0.5" width="21" height="44.5" rx="10" fill="#0e0e0e"/><rect x="25.5" y="0.5" width="21" height="44.5" rx="10" fill="#0e0e0e"/><path d="M5 6 Q8 3 11 5" stroke="#666" stroke-width="1.3" fill="none"/><path d="M14 5 Q17 4 18 7" stroke="#555" stroke-width="1" fill="none"/><path d="M30 6 Q33 3 36 5" stroke="#666" stroke-width="1.3" fill="none"/><path d="M39 5 Q42 4 43 7" stroke="#555" stroke-width="1" fill="none"/><path d="M2 12 H21 M2 34 H21 M2 38 H21 M27 12 H46 M27 34 H46 M27 38 H46" stroke="#2e2e2e" stroke-width="0.8"/></svg>
<svg class="i" style="left:786px;top:585px" width="23" height="44" viewBox="0 0 23 44"><path d="M1 14 Q1 0.5 11.5 0.5 Q22 0.5 22 14 V40 Q22 43 19 43 H4 Q1 43 1 40 Z" fill="#d8dde2" stroke="#bcc2c8" stroke-width="0.7"/><path d="M2 15 H21" stroke="#b8bec4" stroke-width="1"/><path d="M2 31 H21" stroke="#c4cacf" stroke-width="1"/><rect x="8" y="9" width="6" height="1.8" fill="#444"/></svg>
<svg class="i" style="left:855px;top:586px" width="27" height="42" viewBox="0 0 27 42"><path d="M1.5 2 Q1.5 0.5 4 0.5 H23 Q25.5 0.5 25.5 3 V18 L1.5 18 Z" fill="#c8201c"/><path d="M1.5 19 Q3 10 13.5 7.5 Q24 10 25.5 19 V40 H1.5 Z" fill="#eceef2"/><path d="M1.5 19 Q3 10 13.5 7.5 Q24 10 25.5 19" fill="none" stroke="#e07070" stroke-width="0.8"/><circle cx="11.5" cy="35" r="1" fill="#223"/></svg>
<svg class="i" style="left:929px;top:590px" width="34" height="35" viewBox="0 0 34 35"><rect x="0.5" y="0.5" width="32.5" height="33.5" rx="1.5" fill="#3a3a3a"/><rect x="7.5" y="8" width="7" height="7" fill="none" stroke="#3cc4d8" stroke-width="1.2"/><rect x="15" y="16" width="2.5" height="2.2" fill="#2a7ae0"/><rect x="19" y="16" width="2.5" height="2.2" fill="#2a7ae0"/><rect x="23" y="16" width="2.5" height="2.2" fill="#2a7ae0"/><rect x="27" y="16" width="2.5" height="2.2" fill="#2a7ae0"/><rect x="15" y="20" width="2.5" height="2.2" fill="#2a7ae0"/><rect x="19" y="20" width="2.5" height="2.2" fill="#2a7ae0"/><rect x="23" y="20" width="2.5" height="2.2" fill="#2a7ae0"/><rect x="27" y="20" width="2.5" height="2.2" fill="#2a7ae0"/><rect x="15" y="24" width="2.5" height="2.2" fill="#2a7ae0"/><rect x="19" y="24" width="2.5" height="2.2" fill="#2a7ae0"/><rect x="23" y="24" width="2.5" height="2.2" fill="#2a7ae0"/><rect x="27" y="24" width="2.5" height="2.2" fill="#2a7ae0"/><rect x="15" y="28" width="2.5" height="2.2" fill="#2a7ae0"/><rect x="19" y="28" width="2.5" height="2.2" fill="#2a7ae0"/><rect x="23" y="28" width="2.5" height="2.2" fill="#2a7ae0"/><rect x="27" y="28" width="2.5" height="2.2" fill="#2a7ae0"/></svg>
<svg class="i" style="left:699px;top:679px" width="46" height="46" viewBox="0 0 46 46"><circle cx="22.5" cy="22.5" r="22" fill="#b8bcc0"/><circle cx="22.5" cy="22.5" r="15.5" fill="#c6cacd" stroke="#a8acb0" stroke-width="0.8"/><circle cx="22.5" cy="21.5" r="12" fill="#c4c8cb"/><circle cx="5" cy="24" r="0.9" fill="#333"/><circle cx="39.5" cy="20.5" r="0.9" fill="#333"/></svg>
<svg class="i" style="left:776px;top:679px" width="45" height="45" viewBox="0 0 45 45"><circle cx="22" cy="22.5" r="21.5" fill="#f2f2f2" stroke="#cfcfcf" stroke-width="0.8"/><circle cx="18" cy="22" r="15.5" fill="#f6f6f6" stroke="#d8d8d8" stroke-width="0.6"/><circle cx="18" cy="8" r="3" fill="#bbb"/><rect x="8" y="21" width="20" height="10" fill="#e6e6e6" stroke="#ccc" stroke-width="0.5"/><rect x="9.5" y="24" width="12.5" height="5.5" fill="#2a2a2a"/><rect x="14" y="25.5" width="7" height="2.5" fill="#666"/></svg>
<svg class="i" style="left:853px;top:682px" width="33" height="42" viewBox="0 0 33 42"><rect x="1" y="0.5" width="31" height="40.5" fill="#cdd0d0" stroke="#a4a8a8" stroke-width="0.8"/><rect x="6.5" y="5.5" width="10" height="7" fill="#3a74c8"/><rect x="8" y="7" width="7" height="4" fill="#6aa0e8"/><rect x="19.5" y="5.5" width="9" height="10" fill="#2a8a9a"/><rect x="21" y="9" width="6" height="1" fill="#c33"/><rect x="7" y="15" width="10" height="3" fill="#888"/><rect x="6" y="19.5" width="22" height="6" fill="#b0b4b4"/><rect x="8.0" y="27" width="1.8" height="1.8" fill="#c03030"/><rect x="8.0" y="31" width="1.8" height="1.8" fill="#c03030"/><rect x="11.5" y="27" width="1.8" height="1.8" fill="#c03030"/><rect x="11.5" y="31" width="1.8" height="1.8" fill="#c03030"/><rect x="15.0" y="27" width="1.8" height="1.8" fill="#c03030"/><rect x="15.0" y="31" width="1.8" height="1.8" fill="#c03030"/><rect x="18.5" y="27" width="1.8" height="1.8" fill="#c03030"/><rect x="18.5" y="31" width="1.8" height="1.8" fill="#c03030"/><rect x="22.0" y="27" width="1.8" height="1.8" fill="#c03030"/><rect x="22.0" y="31" width="1.8" height="1.8" fill="#c03030"/><rect x="25.5" y="27" width="1.8" height="1.8" fill="#c03030"/><rect x="25.5" y="31" width="1.8" height="1.8" fill="#c03030"/></svg>
<svg class="i" style="left:931px;top:675px" width="31" height="52" viewBox="0 0 31 52"><rect x="12" y="1" width="6" height="4" rx="1.5" fill="#222"/><rect x="11" y="4" width="8" height="4" fill="#e8e8e8"/><path d="M1.5 24 Q1.5 7 15 7 Q28.5 7 28.5 24 Z" fill="#eeeeee" stroke="#c8c8c8" stroke-width="0.8"/><path d="M3 24 H27 L27 40 Q27 51 15 51 Q3 51 3 40 Z" fill="#e6e6e6" stroke="#c0c0c0" stroke-width="0.8"/><path d="M6 31 Q15 25 24 31 L24 44 Q15 50 6 44 Z" fill="#d6d6d6"/><circle cx="15" cy="38.5" r="4.2" fill="#111"/><circle cx="15" cy="38" r="1.5" fill="#444"/><circle cx="15" cy="31" r="0.8" fill="#333"/></svg>
<div class="t" style="left:380.5px;top:95px;font-size:13.2px;line-height:13.2px;">CS/BS监控客户端</div>
<div class="t" style="left:532px;top:95px;font-size:13px;line-height:13px;letter-spacing:2px">智能配电APP</div>
<div class="t" style="left:448.5px;top:140px;font-size:16.5px;line-height:16.5px;">公有云、私有云</div>
<div class="t" style="left:477.5px;top:164.5px;font-size:11.3px;line-height:11.3px;">应用服务器</div>
<div class="t" style="left:495px;top:189px;font-size:10px;line-height:9.7px;">加<br>密<br>传<br>输</div>
<div class="t" style="left:512px;top:187.5px;font-size:9.5px;line-height:8.6px;">光<br>纤<br><span class="sl">/</span><br>无<br>线</div>
<div class="t" style="left:656.5px;top:188.5px;font-size:9.5px;line-height:8.6px;">光<br>纤<br><span class="sl">/</span><br>无<br>线</div>
<div class="t" style="left:147px;top:243.0px;font-size:13px;line-height:16.5px;">变压器<br>超温监测</div>
<div class="t" style="left:147px;top:290.8px;font-size:13px;line-height:16.5px;">开关柜<br>触头测温</div>
<div class="t" style="left:147px;top:338.6px;font-size:13px;line-height:16.5px;">开关柜<br>局放监测</div>
<div class="t" style="left:147px;top:386.4px;font-size:13px;line-height:16.5px;">低压馈线<br>监测</div>
<div class="t" style="left:147px;top:434.2px;font-size:13px;line-height:16.5px;">蓄电池<br>监测</div>
<div class="t" style="left:299.2px;top:308px;font-size:12px;line-height:13.3px;">设<br>备<br>状<br>态<br>监<br>测</div>
<div class="t" style="left:830px;top:248px;font-size:12px;line-height:15px;">A I 仪表<br>识别</div>
<div class="t" style="left:829px;top:305.5px;font-size:14px;line-height:15.8px;letter-spacing:0.2px">红外热成<br>像分析</div>
<div class="t" style="left:829px;top:366.2px;font-size:14px;line-height:17.4px;letter-spacing:0.2px">轨道机器<br>人巡检</div>
<div class="t" style="left:829.5px;top:430px;font-size:14px;line-height:16.6px;letter-spacing:0.2px">电能质量<br>监测</div>
<div class="t" style="left:724.5px;top:306px;font-size:12px;line-height:12.5px;letter-spacing:1px">AI</div>
<div class="t" style="left:724px;top:320.5px;font-size:13px;line-height:13.7px;">智<br>能<br>巡<br>检</div>
<div class="t" style="left:364.5px;top:489.5px;font-size:10px;line-height:10px;">有线/无线</div>
<div class="t" style="left:517px;top:516px;font-size:10px;line-height:10px;">RS485/干接点</div>
<div class="t" style="left:322px;top:597px;font-size:14px;line-height:16px;">联<br>动</div>
<div class="t" style="left:138px;top:557.5px;font-size:12px;line-height:12px;letter-spacing:0.9px">环境监测</div>
<div class="t" style="left:477px;top:557.5px;font-size:12px;line-height:12px;letter-spacing:0.9px">联动控制</div>
<div class="t" style="left:798px;top:557.5px;font-size:12px;line-height:12px;letter-spacing:1.45px">安防、消防监测</div>
<div class="t" style="left:16px;top:636px;font-size:14px;line-height:14.5px;">温湿度<br>监测</div>
<div class="t" style="left:86.5px;top:636px;font-size:14px;line-height:14.5px;">电缆沟<br>水位监测</div>
<div class="t" style="left:165px;top:636px;font-size:14px;line-height:14.5px;"><span style="letter-spacing:0.7px">Sf6/02/03</span><br>监测</div>
<div class="t" style="left:254.5px;top:636px;font-size:14px;line-height:14.5px;">开关柜内<br>测温</div>
<div class="t" style="left:22px;top:736px;font-size:14px;line-height:14.5px;">漏水<br>监测</div>
<div class="t" style="left:98.5px;top:736px;font-size:14px;line-height:14.5px;">噪音<br>监测</div>
<div class="t" style="left:169px;top:736px;font-size:14px;line-height:14.5px;">有害气体<br>监测</div>
<div class="t" style="left:254.5px;top:736px;font-size:14px;line-height:14.5px;">无线电缆<br>测温</div>
<div class="t" style="left:364.5px;top:639px;font-size:14px;line-height:14.5px;">照明<br>控制</div>
<div class="t" style="left:436.5px;top:639px;font-size:14px;line-height:14.5px;">排水泵<br>控制</div>
<div class="t" style="left:524px;top:639px;font-size:14px;line-height:14.5px;">风机<br>控制</div>
<div class="t" style="left:595.5px;top:639px;font-size:14px;line-height:14.5px;">取暖器<br>控制</div>
<div class="t" style="left:364.5px;top:736px;font-size:14px;line-height:14.5px;">空调<br>控制</div>
<div class="t" style="left:436.5px;top:736px;font-size:14px;line-height:14.5px;">除湿机<br>控制</div>
<div class="t" style="left:517.5px;top:736px;font-size:14px;line-height:14.5px;">新风机<br>控制</div>
<div class="t" style="left:603px;top:736px;font-size:14px;line-height:14.5px;">驱鼠器<br>控制</div>
<div class="t" style="left:706.5px;top:636px;font-size:14px;line-height:14.5px;">周界<br>对射</div>
<div class="t" style="left:783px;top:636px;font-size:14px;line-height:14.5px;">入侵<br>报警</div>
<div class="t" style="left:854px;top:636px;font-size:14px;line-height:14.5px;">声光<br>报警</div>
<div class="t" style="left:931.5px;top:636px;font-size:14px;line-height:14.5px;">智能<br>门禁</div>
<div class="t" style="left:707px;top:736px;font-size:14px;line-height:14.5px;">烟感<br>探测</div>
<div class="t" style="left:783px;top:736px;font-size:14px;line-height:14.5px;">明火<br>探测</div>
<div class="t" style="left:853.5px;top:736px;font-size:14px;line-height:14.5px;">消防<br>监测</div>
<div class="t" style="left:931.5px;top:733px;font-size:14px;line-height:14.5px;">视频<br>监控</div>
</body></html>
